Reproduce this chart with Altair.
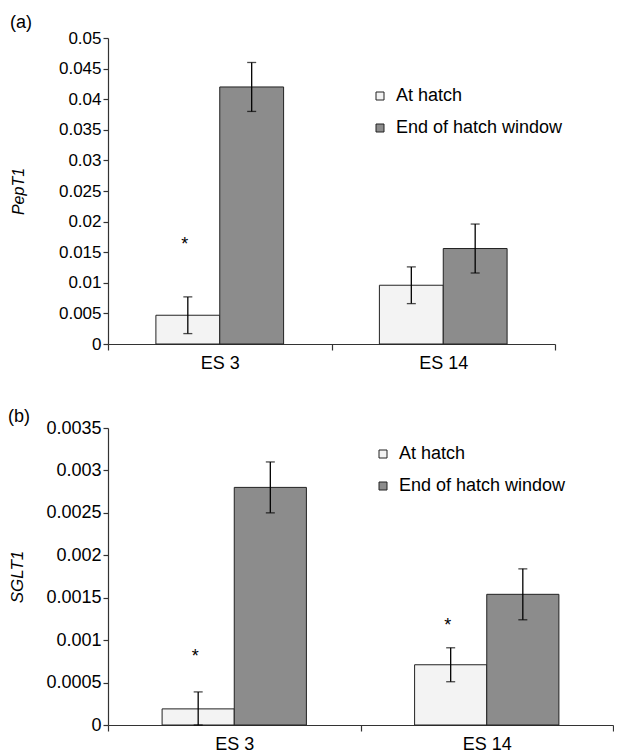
import altair as alt
import pandas as pd

stages = ["ES 3", "ES 14"]
groups = ["At hatch", "End of hatch window"]

# order: ES3 At hatch, ES3 End, ES14 At hatch, ES14 End
row_stage = ["ES 3", "ES 3", "ES 14", "ES 14"]
row_group = ["At hatch", "End of hatch window", "At hatch", "End of hatch window"]

pept1_mean = [0.0047, 0.0420, 0.0096, 0.0156]
pept1_err = [0.0030, 0.0040, 0.0030, 0.0040]
pept1_star = [0.0170, None, None, None]

sglt1_mean = [0.00019, 0.00280, 0.00071, 0.00154]
sglt1_err = [0.00020, 0.00030, 0.00020, 0.00030]
sglt1_star = [0.00086, None, 0.00123, None]

pept1_ticks = [0, 0.005, 0.01, 0.015, 0.02, 0.025, 0.03, 0.035, 0.04, 0.045, 0.05]
sglt1_ticks = [0, 0.0005, 0.001, 0.0015, 0.002, 0.0025, 0.003, 0.0035]

fill_colors = ["#f3f3f3", "#8c8c8c"]
FONT = "Liberation Sans"


def make_df(means, errs, stars):
    return pd.DataFrame({
        "stage": row_stage,
        "group": row_group,
        "mean": means,
        "lo": [max(0.0, m - e) for m, e in zip(means, errs)],
        "hi": [m + e for m, e in zip(means, errs)],
        "star": stars,
    })


def panel(df, label, ytitle, ticks, width, height, legend_x, legend_y, title_x,
          title_off, ytitle_size, ylabel_size):
    ymax = ticks[-1]
    base = alt.Chart(df).encode(
        x=alt.X("stage:N", sort=stages,
                scale=alt.Scale(paddingInner=0, paddingOuter=0),
                axis=alt.Axis(title=None, labelAngle=0, tickBand="extent",
                              labelFontSize=18, tickSize=6, labelPadding=4)),
        xOffset=alt.XOffset("group:N", sort=groups,
                            scale=alt.Scale(paddingInner=0, paddingOuter=0.75)),
    )
    yscale = alt.Scale(domain=[0, ymax], nice=False)
    yaxis = alt.Axis(title=ytitle, values=ticks, format="~g",
                     labelOverlap=False, labelFlush=False, tickCount=len(ticks),
                     titleFontStyle="italic", titleFontSize=ytitle_size,
                     titleX=title_x, titleY=height / 2, titleAngle=270,
                     titleBaseline="bottom", titleAlign="center",
                     tickSize=5, labelPadding=2, labelFontSize=ylabel_size)
    bars = base.mark_bar(stroke="#222", strokeWidth=1).encode(
        y=alt.Y("mean:Q", scale=yscale, axis=yaxis, title=ytitle),
        color=alt.Color("group:N", sort=groups,
                        scale=alt.Scale(domain=groups, range=fill_colors),
                        legend=alt.Legend(title=None, orient="none",
                                          legendX=legend_x, legendY=legend_y,
                                          symbolType="square", symbolSize=64,
                                          symbolStrokeColor="#222", symbolStrokeWidth=1,
                                          symbolOpacity=1, labelLimit=400,
                                          labelFontSize=18, labelFont=FONT,
                                          labelColor="black", labelOffset=7,
                                          rowPadding=14, padding=0)),
    )
    err = base.mark_rule(color="black", strokeWidth=1.3).encode(
        y=alt.Y("lo:Q", scale=yscale, axis=yaxis, title=ytitle), y2="hi:Q")
    cap_hi = base.mark_tick(color="black", size=9, thickness=1.3).encode(
        y=alt.Y("hi:Q", scale=yscale, axis=yaxis, title=ytitle))
    cap_lo = base.mark_tick(color="black", size=9, thickness=1.3).encode(
        y=alt.Y("lo:Q", scale=yscale, axis=yaxis, title=ytitle))
    stars = base.transform_filter("datum.star != null").mark_text(
        text="*", fontSize=18, font=FONT, color="black", dy=10, dx=-3,
        baseline="alphabetic").encode(
        y=alt.Y("star:Q", scale=yscale, axis=yaxis, title=ytitle))
    return alt.layer(bars, err, cap_hi, cap_lo, stars).properties(
        width=width, height=height,
        title=alt.TitleParams(label, anchor="start", frame="bounds", fontSize=18,
                              fontWeight="normal", font=FONT, color="black",
                              offset=title_off),
    )


top = panel(make_df(pept1_mean, pept1_err, pept1_star), "(a)", "PepT1",
            pept1_ticks, 447, 306, 263, 49, -82, -3, 16, 17)
bottom = panel(make_df(sglt1_mean, sglt1_err, sglt1_star), "(b)", "SGLT1",
               sglt1_ticks, 505, 297, 266, 17, -82, -7, 17, 18)

chart = alt.vconcat(top, bottom, spacing=36).resolve_scale(
    color="independent", x="independent", y="independent",
    xOffset="independent").resolve_legend(color="independent").properties(
    padding={"left": 0, "top": 6, "right": 0, "bottom": 0}
).configure_view(stroke=None).configure_axis(
    domainColor="#333", tickColor="#333", labelColor="black", titleColor="black",
    labelFont=FONT, titleFont=FONT, titleFontWeight="normal", grid=False,
    domainWidth=1.2, tickWidth=1.2,
)

chart.save("out.html", embed_options={"renderer": "svg", "actions": False})
